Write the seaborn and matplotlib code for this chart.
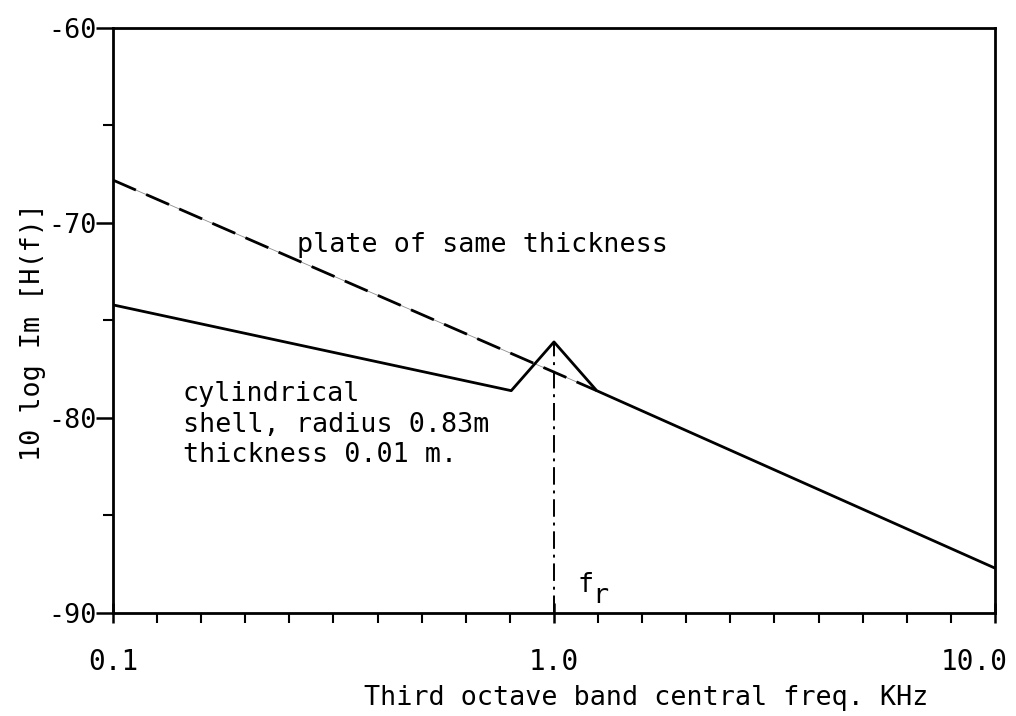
import numpy as np
import pandas as pd
import matplotlib
matplotlib.use("Agg")
import matplotlib.pyplot as plt
import seaborn as sns
from matplotlib.ticker import FixedLocator, NullFormatter
from matplotlib.transforms import ScaledTranslation

# Transfer mobility of a cylindrical shell vs. a flat plate (third-octave bands, kHz)
freq_shell = [0.1, 0.8, 1.0, 1.25, 10.0]
level_shell = [-74.2, -78.6, -76.1, -78.6, -87.7]
freq_plate = [0.1, 1.25]
level_plate = [-67.8, -78.6]
ring_freq = 1.0
ring_level = -76.1

x_ticks = [0.1, 1.0, 10.0]
x_tick_labels = ["0.1", "1.0", "10.0"]
y_ticks = [-90, -80, -70, -60]
y_tick_labels = ["-90", "-80", "-70", "-60"]

shell = pd.DataFrame({"freq": freq_shell, "level": level_shell})
plate = pd.DataFrame({"freq": freq_plate, "level": level_plate})

sns.set_theme(style="ticks")
plt.rcParams["font.family"] = ["DejaVu Sans Mono", "DejaVu Sans"]
plt.rcParams["text.color"] = "black"
plt.rcParams["axes.labelcolor"] = "black"
FS = 19.3

fig = plt.figure(figsize=(10.16, 7.16), dpi=100)
ax = fig.add_axes([0.1112, 0.1439, 0.8681, 0.8170])

# plate: long dashes joined by a faint thin trace
sns.lineplot(data=plate, x="freq", y="level", ax=ax, color="0.55", lw=0.6)
sns.lineplot(data=plate, x="freq", y="level", ax=ax, color="black", lw=2.0,
             linestyle=(0, (9, 4)))
# shell
sns.lineplot(data=shell, x="freq", y="level", ax=ax, color="black", lw=2.0)
# ring frequency marker
ax.plot([ring_freq, ring_freq], [-90, ring_level], color="black", lw=1.4,
        linestyle=(0, (9, 3, 1.5, 3)))

ax.set_xscale("log")
ax.set_xlim(0.1, 10.0)
ax.set_ylim(-90, -60)

ax.xaxis.set_major_locator(FixedLocator(x_ticks))
ax.set_xticklabels(x_tick_labels)
minor_x = [10 ** (k / 10) for k in range(-10, 11) if k % 10 != 0]
ax.xaxis.set_minor_locator(FixedLocator(minor_x))
ax.xaxis.set_minor_formatter(NullFormatter())

ax.yaxis.set_major_locator(FixedLocator(y_ticks))
ax.set_yticklabels(y_tick_labels)
ax.yaxis.set_minor_locator(FixedLocator([-85, -75, -65]))

for s in ax.spines.values():
    s.set_linewidth(2.0)
    s.set_color("black")

ax.tick_params(axis="x", which="major", direction="inout", length=14, width=1.8,
               pad=18, labelsize=20, colors="black")
ax.tick_params(axis="x", which="minor", direction="out", length=7, width=1.5,
               colors="black")
ax.tick_params(axis="y", which="major", direction="out", length=12, width=1.8,
               pad=0, labelsize=FS, colors="black")
ax.tick_params(axis="y", which="minor", direction="out", length=7, width=1.5,
               colors="black")

# last frequency label sits left of the right frame edge
last = ax.xaxis.get_major_ticks()[-1].label1
last.set_horizontalalignment("right")
last.set_transform(last.get_transform() + ScaledTranslation(0.13, 0, fig.dpi_scale_trans))

ax.set_xlabel("Third octave band central freq. KHz", fontsize=FS, color="black")
ax.xaxis.set_label_coords(0.605, -0.123)
ax.set_ylabel("10 log Im [H(f)]", fontsize=FS, color="black")
ax.yaxis.set_label_coords(-0.076, 0.48)

ax.text(0.262, -71.5, "plate of same thickness", fontsize=FS, va="baseline",
        color="black")
ax.text(0.144, -82.26, "cylindrical\nshell, radius 0.83m\nthickness 0.01 m.",
        fontsize=FS, va="baseline", linespacing=1.22, color="black")
ax.text(1.13, -88.92, "f", fontsize=FS, va="baseline", color="black")
ax.text(1.222, -89.5, "r", fontsize=FS, va="baseline", color="black")

fig.savefig("out.png", dpi=100, facecolor="white")
